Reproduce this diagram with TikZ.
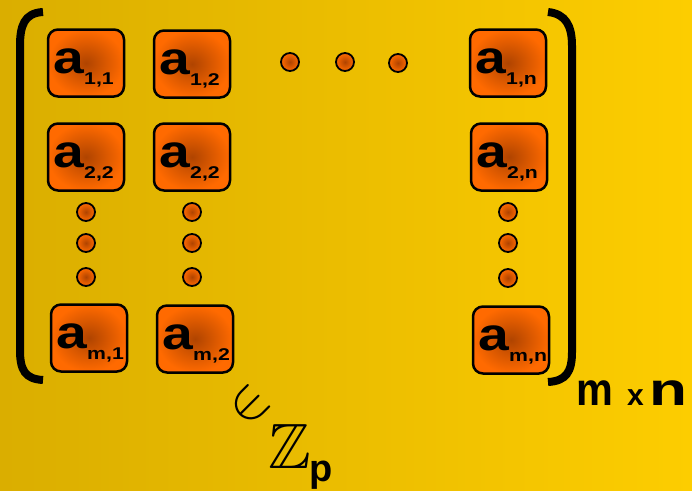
\documentclass[tikz,border=0pt]{standalone}
\usepackage{fontspec}
\setmainfont{Liberation Sans}
\usepackage{amssymb}
\usepackage{graphicx}
\definecolor{bgL}{HTML}{DAAE00}
\definecolor{bgR}{HTML}{FDCD00}
\definecolor{cellout}{HTML}{FF6A00}
\definecolor{cellin}{HTML}{B04400}
\begin{document}
\begin{tikzpicture}[x=1pt,y=-1pt,
  cell/.style={draw=black, line width=2.5pt, rounded corners=10pt,
    minimum width=76pt, minimum height=67pt, inner sep=0pt,
    inner color=cellin, outer color=cellout},
  bigA/.style={anchor=base west, inner sep=0pt, font=\fontsize{46}{46}\selectfont\bfseries},
  subA/.style={anchor=base west, inner sep=0pt, font=\fontsize{17}{17}\selectfont\bfseries},
  edot/.style={circle, draw=black, line width=1.8pt, minimum size=18pt, inner sep=0pt,
    inner color=cellin, outer color=cellout}]
\shade[left color=bgL, right color=bgR] (0,0) rectangle (692,490);
\useasboundingbox (0,0) rectangle (692,490);
\newcommand{\cellat}[4]{%
  \node[cell] (#1) at (#2,#3) {};
  \node[bigA] (#1a) at ([xshift=-33pt,yshift=-10pt]#1.center) {\scalebox{1.2}[1]{a}};
  \node[subA] (#1s) at ([xshift=-2pt,yshift=-21.5pt]#1.center) {\scalebox{1.25}[1]{#4}};}
% cells
\cellat{a11}{86}{63}{1,1}
\cellat{a12}{192}{64}{1,2}
\cellat{a1n}{508}{63}{1,n}
\cellat{a21}{86}{157}{2,2}
\cellat{a22}{192}{157}{2,2}
\cellat{a2n}{509}{157}{2,n}
\cellat{am1}{89}{338}{m,1}
\cellat{am2}{195}{339}{m,2}
\cellat{amn}{511}{340}{m,n}
% dots
\node[edot] (h1) at (290,62) {};
\node[edot] (h2) at (345,62) {};
\node[edot] (h3) at (398,63) {};
\node[edot] (v11) at (86,212) {};
\node[edot] (v12) at (86,243) {};
\node[edot] (v13) at (86,277) {};
\node[edot] (v21) at (192,212) {};
\node[edot] (v22) at (192,243) {};
\node[edot] (v23) at (192,277) {};
\node[edot] (vn1) at (508,212) {};
\node[edot] (vn2) at (508,243) {};
\node[edot] (vn3) at (508,278) {};
% brackets
\draw[line width=8pt] (43,12) .. controls (24,13) and (20,26) .. (20,46) -- (20,350)
   .. controls (20,370) and (25,379) .. (43,380);
\draw[line width=8pt] (548,12) .. controls (566,14) and (572,26) .. (572,46) -- (572,352)
   .. controls (572,372) and (566,381) .. (548,382);
% dimension
\node[anchor=base west, inner sep=0pt] (dim) at (576,405)
  {\fontsize{46}{46}\selectfont\bfseries\scalebox{0.9}[1]{m}\hspace{14pt}{\fontsize{30}{30}\selectfont x}\hspace{6pt}\scalebox{1.35}[1]{n}};
% element of Z_p
\node[rotate=45, inner sep=0pt] (in) at (250,405) {\scalebox{5.6}{$\in$}};
\node[anchor=base west, inner sep=0pt] (Z) at (268,468)
  {\fontsize{64}{64}\selectfont$\mathbb{Z}$};
\node[anchor=base west, inner sep=0pt] (p) at (309,481)
  {\fontsize{38}{38}\selectfont\bfseries p};
\end{tikzpicture}
\end{document}
